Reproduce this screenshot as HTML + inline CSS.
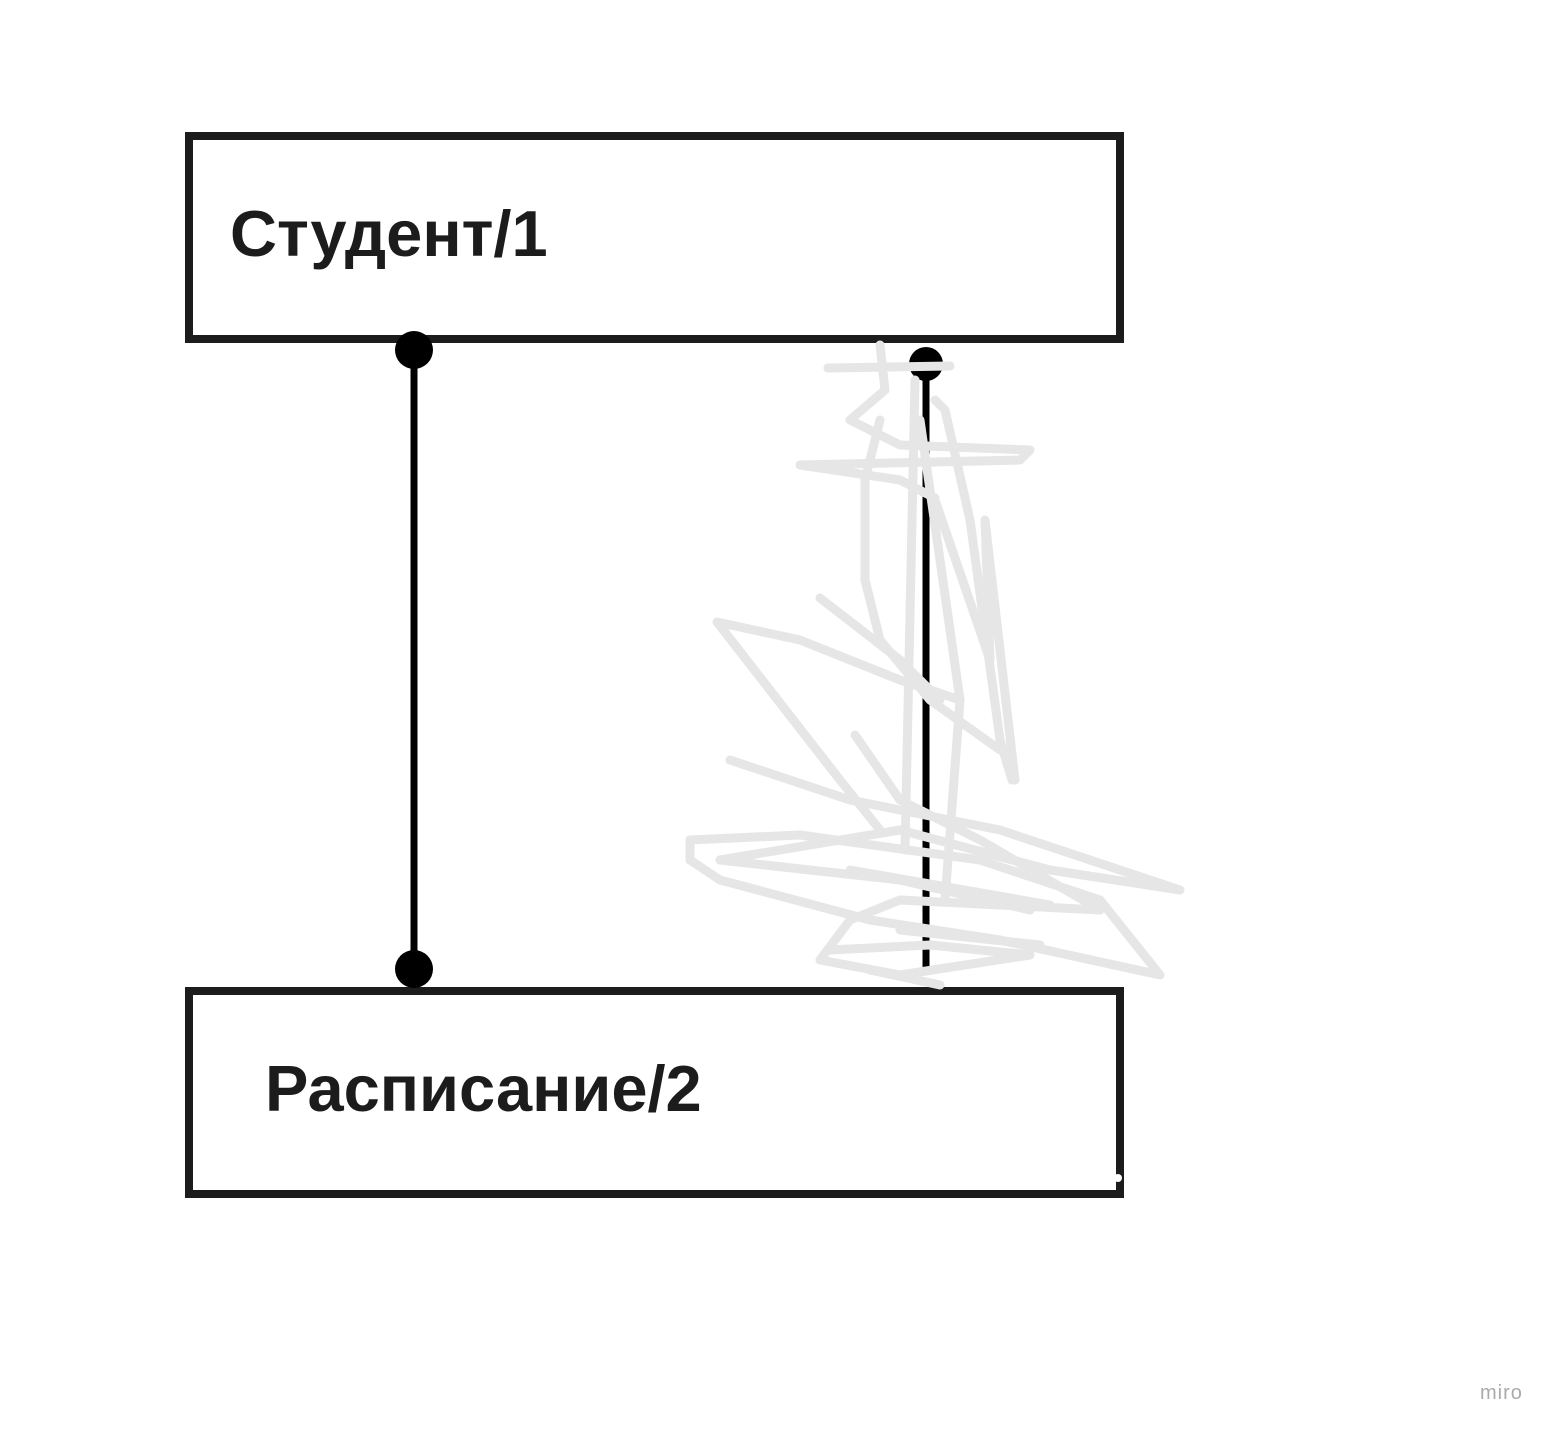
<!DOCTYPE html>
<html><head><meta charset="utf-8"><style>
html,body{margin:0;padding:0;background:#fff;}
body{width:1566px;height:1436px;position:relative;overflow:hidden;font-family:"Liberation Sans","DejaVu Sans",sans-serif;}
.t{position:absolute;font-weight:bold;color:#1c1c1c;font-size:65px;line-height:1;}
</style></head><body>
<svg width="1566" height="1436" style="position:absolute;left:0;top:0">
<rect x="189" y="136" width="931" height="203" fill="none" stroke="#1c1c1c" stroke-width="8"/>
<rect x="189" y="991" width="931" height="203" fill="none" stroke="#1c1c1c" stroke-width="8"/>
<line x1="414" y1="350" x2="414" y2="968" stroke="#000" stroke-width="7"/>
<circle cx="414" cy="350" r="19" fill="#000"/>
<circle cx="414" cy="969" r="19" fill="#000"/>
<line x1="926" y1="362" x2="926" y2="975" stroke="#000" stroke-width="7"/>
<circle cx="926" cy="364" r="17" fill="#000"/>
<g fill="none" stroke="#e6e6e6" stroke-width="9" stroke-linecap="round" stroke-linejoin="round">
<path d="M828 368 L950 366 M880 345 L885 390 L850 420 L900 445 L1030 450 L1020 460 L800 465 L900 480 L935 498"/>
<path d="M915 380 L905 850 M935 400 L945 410 L970 520 L1000 740 L1012 780"/>
<path d="M920 420 L960 700 L945 900 M880 420 L865 480 L865 580 L880 640 L930 700 L1000 750"/>
<path d="M717 622 L800 640 L900 680 L960 700 M717 622 L840 780 L880 830"/>
<path d="M820 598 L900 660 L940 700 M935 500 L990 660 L985 520 L1015 780"/>
<path d="M730 760 L850 800 L1000 830 L1180 890 L1050 870 L900 830 L720 860 L900 880 L1030 910"/>
<path d="M690 840 L800 835 L980 860 L1100 900 L1160 975 L1000 940 L870 920 L720 880 L690 860 Z"/>
<path d="M855 735 L900 800 L980 840 L1100 910 L900 900 L850 920 L820 960 L900 975 L1030 955 L930 945 L830 950"/>
<path d="M870 970 L940 985 M900 930 L1040 945 M850 870 L1050 905"/>
</g>
<circle cx="1118" cy="1178" r="4" fill="#fff"/>
</svg>
<div class="t" style="left:230px;top:201px">Студент/1</div>
<div class="t" style="left:265px;top:1056px">Расписание/2</div>
<div style="position:absolute;left:1480px;top:1382px;font-size:20px;color:#aaa;letter-spacing:1px">miro</div>
</body></html>
